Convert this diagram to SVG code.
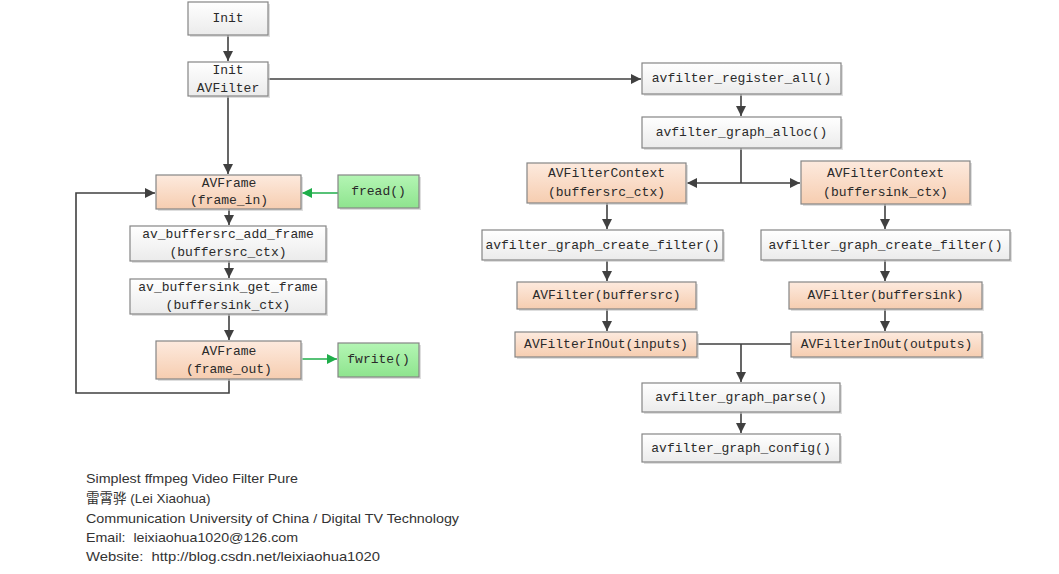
<svg xmlns="http://www.w3.org/2000/svg" width="1059" height="574" viewBox="0 0 1059 574">
  <defs>
    <linearGradient id="gGray" x1="0" y1="0" x2="0" y2="1">
      <stop offset="0" stop-color="#ffffff"/>
      <stop offset="1" stop-color="#ebebeb"/>
    </linearGradient>
    <linearGradient id="gPeach" x1="0" y1="0" x2="0" y2="1">
      <stop offset="0" stop-color="#fdeade"/>
      <stop offset="1" stop-color="#f6cdb0"/>
    </linearGradient>
    <linearGradient id="gGreen" x1="0" y1="0" x2="0" y2="1">
      <stop offset="0" stop-color="#b4f5b4"/>
      <stop offset="1" stop-color="#8ee48e"/>
    </linearGradient>
    <marker id="arrowDark" viewBox="0 0 10 10" refX="10" refY="5" markerWidth="10" markerHeight="10" markerUnits="userSpaceOnUse" orient="auto">
      <path d="M0,0 L10,5 L0,10 Z" fill="#404040"/>
    </marker>
    <marker id="arrowGreen" viewBox="0 0 10 10" refX="10" refY="5" markerWidth="10" markerHeight="10" markerUnits="userSpaceOnUse" orient="auto">
      <path d="M0,0 L10,5 L0,10 Z" fill="#1fae4a"/>
    </marker>
  </defs>
  <style>
    .box { stroke: #858585; stroke-width: 1.2; }
    .gray { fill: url(#gGray); }
    .peach { fill: url(#gPeach); }
    .green { fill: url(#gGreen); }
    .shadow { fill: #c8c8c8; opacity: 0.6; }
    .lbl { font-family: "Liberation Mono", "DejaVu Sans Mono", monospace; font-size: 13px; fill: #2a2a2a; text-anchor: middle; dominant-baseline: central; }
    .conn { fill: none; stroke: #404040; stroke-width: 1.6; }
    .connG { fill: none; stroke: #1fae4a; stroke-width: 1.6; }
    .note { font-family: "Liberation Sans", "Noto Sans CJK SC", sans-serif; font-size: 13.5px; fill: #333333; white-space: pre; }
  </style>

  <rect width="1059" height="574" fill="#ffffff"/>

  <!-- connectors -->
  <g id="connectors">
    <path class="conn" d="M228,35 V61" marker-end="url(#arrowDark)"/>
    <path class="conn" d="M268,79 H641" marker-end="url(#arrowDark)"/>
    <path class="conn" d="M228,96 V174" marker-end="url(#arrowDark)"/>
    <path class="conn" d="M229,209 V225" marker-end="url(#arrowDark)"/>
    <path class="conn" d="M229,261 V278" marker-end="url(#arrowDark)"/>
    <path class="conn" d="M229,314 V340" marker-end="url(#arrowDark)"/>
    <path class="conn" d="M229,379 V393 H76 V193 H155" marker-end="url(#arrowDark)"/>
    <path class="connG" d="M338,193 H302" marker-end="url(#arrowGreen)"/>
    <path class="connG" d="M302,359 H337" marker-end="url(#arrowGreen)"/>

    <path class="conn" d="M741,94 V116" marker-end="url(#arrowDark)"/>
    <path class="conn" d="M741,148 V183"/>
    <path class="conn" d="M741,183 H687" marker-end="url(#arrowDark)"/>
    <path class="conn" d="M741,183 H800" marker-end="url(#arrowDark)"/>

    <path class="conn" d="M607,203 V229" marker-end="url(#arrowDark)"/>
    <path class="conn" d="M607,261 V281" marker-end="url(#arrowDark)"/>
    <path class="conn" d="M607,309 V331" marker-end="url(#arrowDark)"/>
    <path class="conn" d="M885,204 V229" marker-end="url(#arrowDark)"/>
    <path class="conn" d="M885,260 V281" marker-end="url(#arrowDark)"/>
    <path class="conn" d="M885,309 V331" marker-end="url(#arrowDark)"/>

    <path class="conn" d="M697,344 H791"/>
    <path class="conn" d="M741,344 V382" marker-end="url(#arrowDark)"/>
    <path class="conn" d="M741,412 V433" marker-end="url(#arrowDark)"/>
  </g>

  <!-- left column -->
  <g id="init">
    <rect class="shadow" x="190" y="4" width="80" height="33"/>
    <rect class="box gray" x="188" y="2" width="80" height="33"/>
    <text class="lbl" x="228" y="18.5">Init</text>
  </g>
  <g id="init-avfilter">
    <rect class="shadow" x="190" y="64" width="80" height="34"/>
    <rect class="box gray" x="188" y="62" width="80" height="34"/>
    <text class="lbl" x="228" y="70">Init</text>
    <text class="lbl" x="228" y="88">AVFilter</text>
  </g>
  <g id="frame-in">
    <rect class="shadow" x="158" y="177" width="145" height="34"/>
    <rect class="box peach" x="156" y="175" width="145" height="34"/>
    <text class="lbl" x="229" y="183.5">AVFrame</text>
    <text class="lbl" x="229" y="200.5">(frame_in)</text>
  </g>
  <g id="fread">
    <rect class="shadow" x="340" y="177" width="81" height="33"/>
    <rect class="box green" x="338" y="175" width="81" height="33"/>
    <text class="lbl" x="378.5" y="191.5">fread()</text>
  </g>
  <g id="buffersrc-add-frame">
    <rect class="shadow" x="132" y="228" width="196" height="35"/>
    <rect class="box gray" x="130" y="226" width="196" height="35"/>
    <text class="lbl" x="228" y="234.5">av_buffersrc_add_frame</text>
    <text class="lbl" x="228" y="252">(buffersrc_ctx)</text>
  </g>
  <g id="buffersink-get-frame">
    <rect class="shadow" x="132" y="281" width="196" height="35"/>
    <rect class="box gray" x="130" y="279" width="196" height="35"/>
    <text class="lbl" x="228" y="287.5">av_buffersink_get_frame</text>
    <text class="lbl" x="228" y="305">(buffersink_ctx)</text>
  </g>
  <g id="frame-out">
    <rect class="shadow" x="158" y="343" width="145" height="38"/>
    <rect class="box peach" x="156" y="341" width="145" height="38"/>
    <text class="lbl" x="229" y="351">AVFrame</text>
    <text class="lbl" x="229" y="369">(frame_out)</text>
  </g>
  <g id="fwrite">
    <rect class="shadow" x="340" y="345" width="81" height="34"/>
    <rect class="box green" x="338" y="343" width="81" height="34"/>
    <text class="lbl" x="378.5" y="359.5">fwrite()</text>
  </g>

  <!-- right column -->
  <g id="register-all">
    <rect class="shadow" x="644" y="65" width="199" height="31"/>
    <rect class="box gray" x="642" y="63" width="199" height="31"/>
    <text class="lbl" x="741.5" y="78.5">avfilter_register_all()</text>
  </g>
  <g id="graph-alloc">
    <rect class="shadow" x="644" y="119" width="199" height="31"/>
    <rect class="box gray" x="642" y="117" width="199" height="31"/>
    <text class="lbl" x="741.5" y="132.5">avfilter_graph_alloc()</text>
  </g>
  <g id="ctx-src">
    <rect class="shadow" x="529" y="165" width="159" height="40"/>
    <rect class="box peach" x="527" y="163" width="159" height="40"/>
    <text class="lbl" x="606.5" y="173.5">AVFilterContext</text>
    <text class="lbl" x="606.5" y="192">(buffersrc_ctx)</text>
  </g>
  <g id="ctx-sink">
    <rect class="shadow" x="803" y="163" width="169" height="43"/>
    <rect class="box peach" x="801" y="161" width="169" height="43"/>
    <text class="lbl" x="885.5" y="173">AVFilterContext</text>
    <text class="lbl" x="885.5" y="192">(buffersink_ctx)</text>
  </g>
  <g id="create-filter-src">
    <rect class="shadow" x="484" y="232" width="241" height="30"/>
    <rect class="box gray" x="482" y="230" width="241" height="30"/>
    <text class="lbl" x="602.5" y="245">avfilter_graph_create_filter()</text>
  </g>
  <g id="create-filter-sink">
    <rect class="shadow" x="763" y="232" width="249" height="30"/>
    <rect class="box gray" x="761" y="230" width="249" height="30"/>
    <text class="lbl" x="885.5" y="245">avfilter_graph_create_filter()</text>
  </g>
  <g id="filter-src">
    <rect class="shadow" x="519" y="284" width="179" height="27"/>
    <rect class="box peach" x="517" y="282" width="179" height="27"/>
    <text class="lbl" x="606.5" y="295.5">AVFilter(buffersrc)</text>
  </g>
  <g id="filter-sink">
    <rect class="shadow" x="791" y="284" width="193" height="27"/>
    <rect class="box peach" x="789" y="282" width="193" height="27"/>
    <text class="lbl" x="885.5" y="295.5">AVFilter(buffersink)</text>
  </g>
  <g id="inout-inputs">
    <rect class="shadow" x="517" y="334" width="182" height="25"/>
    <rect class="box peach" x="515" y="332" width="182" height="25"/>
    <text class="lbl" x="606" y="344.5">AVFilterInOut(inputs)</text>
  </g>
  <g id="inout-outputs">
    <rect class="shadow" x="793" y="334" width="191" height="25"/>
    <rect class="box peach" x="791" y="332" width="191" height="25"/>
    <text class="lbl" x="886.5" y="344.5">AVFilterInOut(outputs)</text>
  </g>
  <g id="graph-parse">
    <rect class="shadow" x="644" y="385" width="198" height="29"/>
    <rect class="box gray" x="642" y="383" width="198" height="29"/>
    <text class="lbl" x="741" y="397.5">avfilter_graph_parse()</text>
  </g>
  <g id="graph-config">
    <rect class="shadow" x="644" y="436" width="198" height="28"/>
    <rect class="box gray" x="642" y="434" width="198" height="28"/>
    <text class="lbl" x="741" y="448">avfilter_graph_config()</text>
  </g>

  <!-- credits -->
  <g id="credits">
    <text class="note" x="86" y="483" textLength="212" lengthAdjust="spacingAndGlyphs">Simplest ffmpeg Video Filter Pure</text>
    <text class="note" x="86" y="503">雷霄骅 (Lei Xiaohua)</text>
    <text class="note" x="86" y="523" textLength="373" lengthAdjust="spacingAndGlyphs">Communication University of China / Digital TV Technology</text>
    <text class="note" x="86" y="542" textLength="212" lengthAdjust="spacingAndGlyphs">Email:  leixiaohua1020@126.com</text>
    <text class="note" x="86" y="561" textLength="294" lengthAdjust="spacingAndGlyphs">Website:  http://blog.csdn.net/leixiaohua1020</text>
  </g>
</svg>
